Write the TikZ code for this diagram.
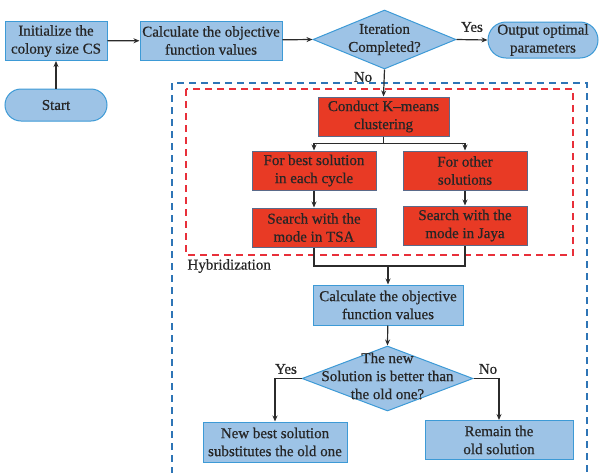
\documentclass[tikz,border=0pt]{standalone}
\usepackage{fontspec}
\setmainfont{Liberation Serif}[FakeBold=0.6]
\usetikzlibrary{shapes.geometric,shapes.misc,arrows.meta}
\definecolor{bluefill}{HTML}{9DC3E6}
\definecolor{blueedge}{HTML}{3D9AD6}
\definecolor{redfill}{HTML}{E83A25}
\definecolor{rededge}{HTML}{5A6A8A}
\definecolor{linecol}{HTML}{2B2B2B}
\definecolor{bluedash}{HTML}{2E75B6}
\definecolor{reddash}{HTML}{E8303A}
\tikzset{
  txt/.style={font=\fontsize{15}{18}\selectfont, align=center, text={black!85}},
  bluebox/.style={txt, rectangle, draw=blueedge, fill=bluefill, line width=1pt, inner sep=0pt},
  redbox/.style={txt, rectangle, draw=rededge, fill=redfill, line width=1pt, inner sep=0pt},
  terminal/.style={txt, rounded rectangle, draw=blueedge, fill=bluefill, line width=1pt, inner sep=0pt},
  decision/.style={diamond, draw=blueedge, fill=bluefill, line width=1pt, inner sep=0pt},
  conn/.style={draw=linecol, line width=1.2pt, -{Stealth[length=6pt,width=5pt]}},
  plain/.style={draw=linecol, line width=1.2pt},
  lbl/.style={txt},
}
\begin{document}
\begin{tikzpicture}[x=1pt,y=-1pt]
\useasboundingbox (0,0) rectangle (600,472);

% dashed frames
\draw[bluedash, line width=1.6pt, dash pattern=on 7pt off 5pt] (172,474) -- (172,83) -- (587,83) -- (587,474);
\draw[reddash, line width=1.6pt, dash pattern=on 7pt off 5pt] (186,89) rectangle (573,255);
\node[lbl, anchor=west] (hyb) at (184,266) {Hybridization};

% top row
\node[bluebox, minimum width=102pt, minimum height=39pt] (init) at (56,41) {Initialize the\\colony size CS};
\node[terminal, minimum width=102pt, minimum height=32pt] (start) at (56,105) {Start};
\node[bluebox, minimum width=142pt, minimum height=39pt] (calc1) at (211,40.5) {Calculate the objective\\function values};
\node[decision, minimum width=143pt, minimum height=59pt] (d1) at (384.5,39.5) {};
\node[txt] (d1t) at (384.5,39.5) {Iteration\\Completed?};
\node[terminal, minimum width=108pt, minimum height=36pt] (out) at (543,40) {Output optimal\\parameters};

% hybridization block
\node[redbox, minimum width=131pt, minimum height=39pt] (km) at (383.5,116.5) {Conduct K--means\\clustering};
\node[redbox, minimum width=124pt, minimum height=39pt] (best) at (314,170.5) {For best solution\\in each cycle};
\node[redbox, minimum width=124pt, minimum height=39pt] (other) at (465,170.5) {For other\\solutions};
\node[redbox, minimum width=124pt, minimum height=39pt] (tsa) at (314,227.5) {Search with the\\mode in TSA};
\node[redbox, minimum width=124pt, minimum height=39pt] (jaya) at (465,225.5) {Search with the\\mode in Jaya};
\coordinate (merge) at (388,266);

% evaluation
\node[bluebox, minimum width=150pt, minimum height=40pt] (calc2) at (388,305) {Calculate the objective\\function values};
\node[decision, minimum width=171pt, minimum height=65pt] (d2) at (387.5,378.5) {};
\node[txt] (d2t) at (387.5,376) {The new\\Solution is better than\\the old one?};
\node[bluebox, minimum width=144pt, minimum height=40pt] (newb) at (275,442) {New best solution\\substitutes the old one};
\node[bluebox, minimum width=148pt, minimum height=39pt] (rem) at (499,440) {Remain the\\old solution};

% connectors
\draw[conn] (start) -- (init);
\draw[conn] (init) -- (calc1);
\draw[conn] (calc1) -- (d1.west);
\draw[conn] (d1.east) -- (out.west);
\node[lbl] (yes1) at (472,27) {Yes};
\draw[conn] (d1.south) -- (km.north);
\node[lbl] (no1) at (363,77) {No};
\draw[conn] (km.south) -- ++(0,7) -| (best.north);
\draw[conn] (km.south) -- ++(0,7) -| (other.north);
\draw[conn] (best) -- (tsa);
\draw[conn] (other) -- (jaya);
\draw[plain] (tsa.south) |- (merge) -| (jaya.south);
\draw[conn] (merge) -- (calc2.north);
\draw[conn] (calc2) -- (d2.north);
\draw[conn] (d2.west) -| (newb.north);
\node[lbl] (yes2) at (286,369) {Yes};
\draw[conn] (d2.east) -| (rem.north);
\node[lbl] (no2) at (488,369) {No};
\end{tikzpicture}
\end{document}
